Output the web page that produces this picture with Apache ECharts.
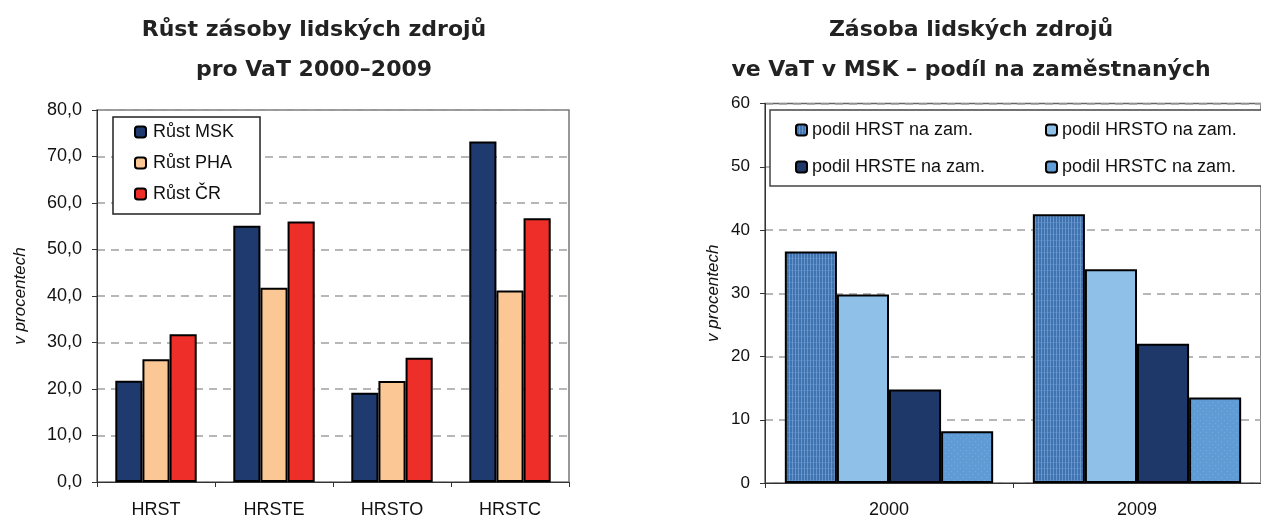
<!DOCTYPE html>
<html><head><meta charset="utf-8">
<script src="https://cdn.jsdelivr.net/npm/echarts@6/dist/echarts.min.js"></script>
<style>html,body{margin:0;padding:0;background:#fff}#c{width:1261px;height:519px}</style>
</head><body><div id="c"></div>
<script>
// ---- Left chart data ----
const leftCategories = ['HRST', 'HRSTE', 'HRSTO', 'HRSTC'];
const leftSeriesNames = ['Růst MSK', 'Růst PHA', 'Růst ČR'];
const rustMSK = [21.8, 55.1, 19.2, 73.2];
const rustPHA = [26.4, 41.8, 21.7, 41.2];
const rustCR = [31.8, 56.0, 26.7, 56.7];
const leftYTicks = ['0,0', '10,0', '20,0', '30,0', '40,0', '50,0', '60,0', '70,0', '80,0'];
const leftTitle = 'Růst zásoby lidských zdrojů\npro VaT 2000–2009';

// ---- Right chart data ----
const rightCategories = ['2000', '2009'];
const rightSeriesNames = ['podil HRST na zam.', 'podil HRSTO na zam.', 'podil HRSTE na zam.', 'podil HRSTC na zam.'];
const podilHRST = [36.6, 42.5];
const podilHRSTO = [29.8, 33.8];
const podilHRSTE = [14.8, 22.0];
const podilHRSTC = [8.2, 13.5];
const rightYTicks = ['0', '10', '20', '30', '40', '50', '60'];
const rightTitle = 'Zásoba lidských zdrojů\nve VaT v MSK – podíl na zaměstnaných';
const yName = 'v procentech';

function makePattern(base, line, type) {
  const c = document.createElement('canvas');
  c.width = 6; c.height = 6;
  const g = c.getContext('2d');
  g.fillStyle = base; g.fillRect(0, 0, 6, 6);
  g.fillStyle = line;
  if (type === 'grid') {
    g.fillRect(0, 0, 1, 6); g.fillRect(3, 0, 1, 6);
    g.globalAlpha = 0.5; g.fillRect(0, 0, 6, 1);
  } else {
    g.globalAlpha = 0.6;
    g.fillRect(0, 0, 1, 1); g.fillRect(3, 3, 1, 1);
  }
  return { image: c, repeat: 'repeat' };
}

const FONT = 'Liberation Sans';
const chart = echarts.init(document.getElementById('c'), null, { renderer: 'canvas' });

const gridSplit = { show: true, lineStyle: { type: [8, 6], color: '#a0a0a0', width: 1.5 } };
const axLine = { show: true, lineStyle: { color: '#333', width: 1 } };
const axTick = { show: true, length: 5, lineStyle: { color: '#333', width: 1 } };
const border = { borderColor: '#000', borderWidth: 2 };

const leftColors = ['#1f3a6e', '#fbc794', '#ee2e28'];
const leftData = [rustMSK, rustPHA, rustCR];
const rightColors = [
  makePattern('#3f73b0', '#6896cc', 'grid'),
  '#8ec0e8',
  '#1e3869',
  makePattern('#5f9bd4', '#8ab8e4', 'dots')
];
const rightData = [podilHRST, podilHRSTO, podilHRSTE, podilHRSTC];

const series = [];
leftSeriesNames.forEach((n, i) => series.push({
  name: n, type: 'bar', xAxisIndex: 0, yAxisIndex: 0,
  data: leftData[i], barGap: '0%', barCategoryGap: '31%',
  itemStyle: Object.assign({ color: leftColors[i] }, border),
  emphasis: { disabled: true }, silent: true
}));
rightSeriesNames.forEach((n, i) => series.push({
  name: n, type: 'bar', xAxisIndex: 1, yAxisIndex: 1,
  data: rightData[i], barGap: '0%', barCategoryGap: '16%',
  itemStyle: Object.assign({ color: rightColors[i] }, border),
  emphasis: { disabled: true }, silent: true
}));

const titleStyle = { fontFamily: 'DejaVu Sans', fontWeight: 'bold', fontSize: 22, lineHeight: 40, color: '#222' };

chart.setOption({
  animation: false,
  backgroundColor: '#fff',
  title: [
    { text: leftTitle, left: 314, top: 10, textAlign: 'center', padding: 0, textStyle: titleStyle },
    { text: rightTitle, left: 971, top: 10, textAlign: 'center', padding: 0, textStyle: titleStyle }
  ],
  grid: [
    { left: 97, top: 110, width: 472, height: 375, show: true, borderColor: '#777', borderWidth: 1.5, backgroundColor: 'transparent' },
    { left: 765, top: 103.5, width: 504, height: 384.5, show: true, borderColor: '#666', borderWidth: 1.5, backgroundColor: 'transparent' }
  ],
  legend: [
    {
      data: leftSeriesNames, left: 113, top: 117, orient: 'vertical',
      padding: [5, 26, 10, 21], itemGap: 11, itemWidth: 11, itemHeight: 11,
      borderColor: '#222', borderWidth: 1.5, backgroundColor: '#fff', selectedMode: false,
      textStyle: { fontFamily: FONT, fontSize: 18, lineHeight: 20, color: '#111', padding: [0, 0, 0, 2] }
    },
    {
      data: rightSeriesNames, left: 770, top: 110, width: 490, orient: 'horizontal',
      padding: [10, 10, 9, 25], itemGap: 17, itemWidth: 11, itemHeight: 11,
      borderColor: '#444', borderWidth: 1.5, backgroundColor: '#fff', selectedMode: false,
      textStyle: { fontFamily: FONT, fontSize: 18, lineHeight: 20, color: '#111', width: 216, overflow: 'none' }
    }
  ],
  xAxis: [
    {
      type: 'category', gridIndex: 0, data: leftCategories,
      axisLine: axLine, axisTick: axTick,
      axisLabel: { fontFamily: FONT, fontSize: 18, color: '#111', margin: 19 },
      splitLine: { show: false }
    },
    {
      type: 'category', gridIndex: 1, data: rightCategories,
      axisLine: axLine, axisTick: axTick,
      axisLabel: { fontFamily: FONT, fontSize: 18, color: '#111', margin: 18 },
      splitLine: { show: false }
    }
  ],
  yAxis: [
    {
      type: 'value', gridIndex: 0, min: 0, max: 80, interval: 10,
      name: yName, nameLocation: 'middle', nameGap: 68,
      nameTextStyle: { fontFamily: FONT, fontStyle: 'italic', fontSize: 17, color: '#111' },
      axisLine: axLine, axisTick: axTick,
      axisLabel: { fontFamily: FONT, fontSize: 18, color: '#111', margin: 15,
        formatter: v => leftYTicks[Math.round(v / 10)] },
      splitLine: gridSplit
    },
    {
      type: 'value', gridIndex: 1, min: 0, max: 60, interval: 10,
      name: yName, nameLocation: 'middle', nameGap: 43,
      nameTextStyle: { fontFamily: FONT, fontStyle: 'italic', fontSize: 17, color: '#111' },
      axisLine: axLine, axisTick: axTick,
      axisLabel: { fontFamily: FONT, fontSize: 17, color: '#111', margin: 15,
        formatter: v => rightYTicks[Math.round(v / 10)] },
      splitLine: gridSplit
    }
  ],
  series: series
});
</script>
</body></html>
